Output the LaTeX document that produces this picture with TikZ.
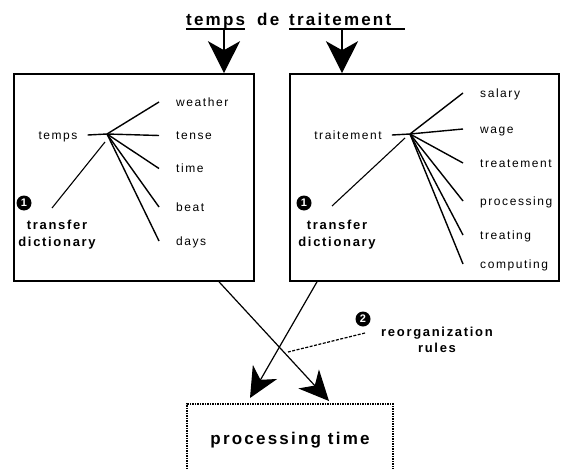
\documentclass[tikz,border=0pt]{standalone}
\usepackage{fontspec}
\setmainfont{Liberation Sans}[LetterSpace=13]
\usetikzlibrary{arrows.meta}
\begin{document}
\begin{tikzpicture}[x=1pt,y=-1pt,
  word/.style={font=\fontsize{12}{14}\selectfont, inner sep=0pt, text height=8.5pt, text depth=0pt, anchor=west},
  lbl/.style={font=\bfseries\fontsize{13}{17}\selectfont, align=center, inner sep=0pt},
  ttl/.style={font=\bfseries\fontsize{17}{20}\selectfont, inner sep=0pt, anchor=base west},
  box/.style={draw, line width=1.6pt, inner sep=0pt},
  num/.style={circle, fill=black, text=white, font=\bfseries\fontsize{11}{11}\selectfont, minimum size=15pt, inner sep=0pt},
  treeline/.style={line width=1.4pt},
  ptrline/.style={line width=1.1pt},
  bigarrow/.style={line width=1.4pt, -{Stealth[length=32pt,width=32pt,inset=9pt]}},
  midarrow/.style={line width=1.2pt, -{Stealth[length=30pt,width=28pt,inset=9pt]}},
  reorgline/.style={line width=1.2pt, dash pattern=on 3pt off 1.5pt},
  resbox/.style={draw, dash pattern=on 1.5pt off 1pt, line width=1.2pt, minimum width=206pt, minimum height=72pt, font=\bfseries\fontsize{17}{20}\selectfont, inner sep=0pt},
]
\useasboundingbox (0,0) rectangle (561,468);

% title
\node[ttl] (t1) at (186,26) {temps};
\node[ttl] (de) at (257,26) {de};
\node[ttl] (t2) at (289,26) {traitement};
\draw[line width=1.3pt] ([yshift=-3pt]t1.base west) -- ([yshift=-3pt]t1.base east);
\draw[line width=1.3pt] ([yshift=-3pt]t2.base west) -- ([xshift=14pt,yshift=-3pt]t2.base east);

% boxes
\node[box, minimum width=240pt, minimum height=207pt] (lbox) at (134,177.5) {};
\node[box, minimum width=269pt, minimum height=207pt] (rbox) at (424.5,177.5) {};

\coordinate (a1) at (224,29);
\coordinate (a2) at (342,29);
\draw[bigarrow] (a1) -- (a1 |- lbox.north);
\draw[bigarrow] (a2) -- (a2 |- rbox.north);

% left tree
\node[word, anchor=center] (temps) at (58,135) {temps};
\coordinate (h1) at (107,134);
\draw[treeline] ([xshift=10pt]temps.east) -- (h1);
\node[word] (w1) at (176,102) {weather};
\node[word] (w2) at (176,135.5) {tense};
\node[word] (w3) at (176,168.5) {time};
\node[word] (w4) at (176,207) {beat};
\node[word] (w5) at (176,241) {days};
\foreach \w in {w1,w2,w3,w4,w5}
  \draw[treeline] (h1) -- ([xshift=-17pt]\w.west);

\node[num] (c1) at (24,203) {1};
\node[lbl] (d1) at (57,234.5) {transfer\\dictionary};
\coordinate (p1a) at (52,208);
\coordinate (p1b) at (105,142);
\draw[ptrline] (p1a) -- (p1b);

% right tree
\node[word, anchor=center] (trait) at (348,135) {traitement};
\coordinate (h2) at (410,134);
\draw[treeline] ([xshift=10pt]trait.east) -- (h2);
\node[word] (v1) at (480,93) {salary};
\node[word] (v2) at (480,129) {wage};
\node[word] (v3) at (480,163) {treatement};
\node[word] (v4) at (480,201) {processing};
\node[word] (v5) at (480,235) {treating};
\node[word] (v6) at (480,264) {computing};
\foreach \w in {v1,v2,v3,v4,v5,v6}
  \draw[treeline] (h2) -- ([xshift=-17pt]\w.west);

\node[num] (c2) at (304,203) {1};
\node[lbl] (d2) at (337,234.5) {transfer\\dictionary};
\coordinate (p2a) at (332,206);
\coordinate (p2b) at (405,138);
\draw[ptrline] (p2a) -- (p2b);

% result
\node[resbox] (ptime) at (290,440) {processing time};
\coordinate (tipL) at (250,398);
\coordinate (tipR) at (329,401);
\draw[midarrow] ([xshift=85pt]lbox.south) -- (tipR);
\draw[midarrow] ([xshift=-107.5pt]rbox.south) -- (tipL);

% reorganization rules
\node[num] (c3) at (363,319) {2};
\node[lbl, align=center] (reorg) at (437,340) {reorganization\\[-1pt]rules};
\coordinate (r1) at (365,333);
\coordinate (r2) at (288,352);
\draw[reorgline] (r1) -- (r2);
\end{tikzpicture}
\end{document}
